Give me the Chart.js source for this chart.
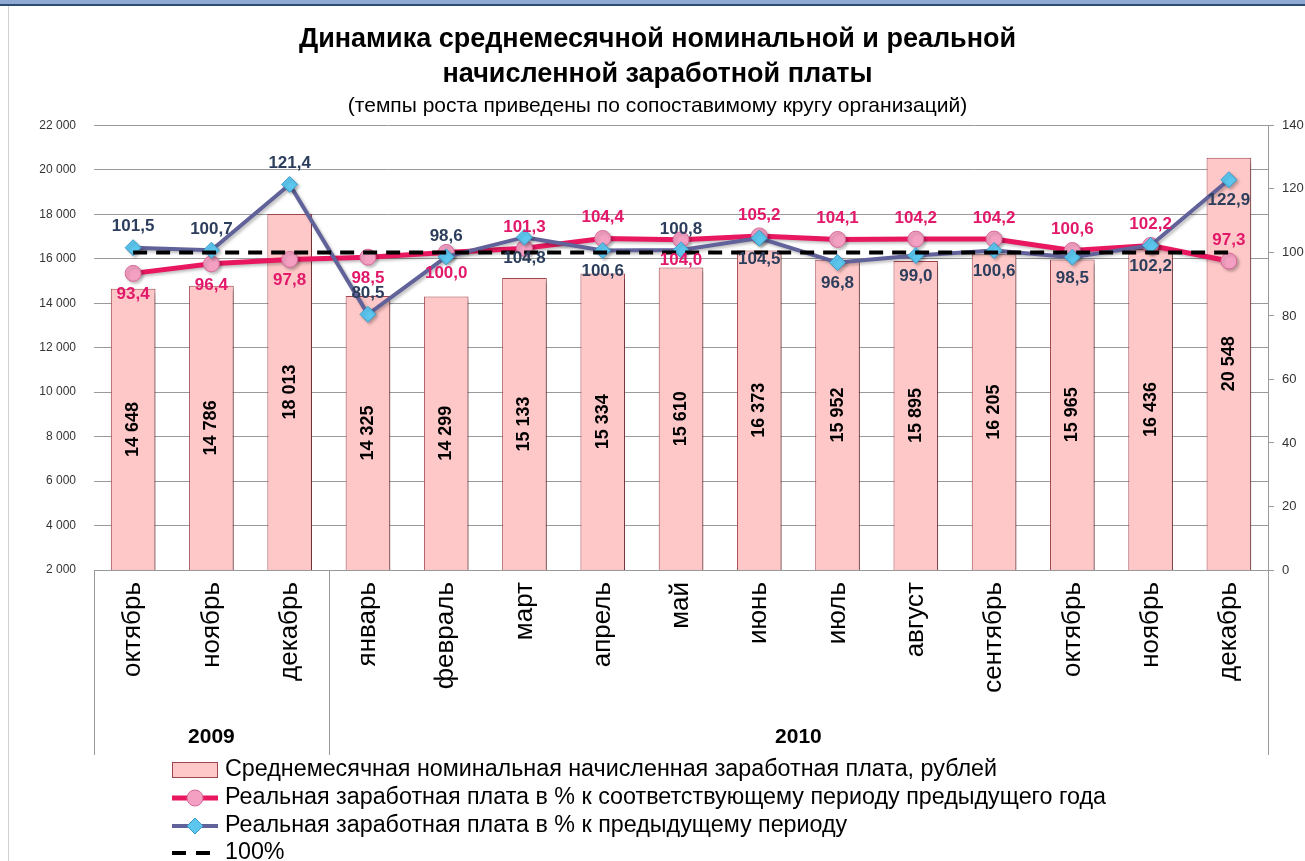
<!DOCTYPE html>
<html>
<head>
<meta charset="utf-8">
<script src="https://cdn.jsdelivr.net/npm/chart.js@4.4.0/dist/chart.umd.min.js"></script>
<style>
	html, body { margin: 0; padding: 0; background: #fff; }
	#wrap { position: relative; width: 1305px; height: 861px; overflow: hidden; }
	#topband { position: absolute; left: 0; top: 0; width: 1305px; height: 4px; background: #8eaad3; border-bottom: 2px solid #2f4b72; }
	#leftline { position: absolute; left: 8px; top: 6px; width: 1px; height: 855px; background: #d0d0d0; }
	canvas { position: absolute; left: 0; top: 0; }
</style>
</head>
<body>
<div id="wrap">
	<canvas id="wageChart" width="1305" height="861"></canvas>
	<div id="topband"></div>
	<div id="leftline"></div>
</div>
<script>
// data
var months = ['октябрь', 'ноябрь', 'декабрь', 'январь', 'февраль', 'март', 'апрель', 'май',
	'июнь', 'июль', 'август', 'сентябрь', 'октябрь', 'ноябрь', 'декабрь'];
var years = ['2009', '2010'];
var yearMonths = [3, 12];

// nominal wage, rub
var wages = [14648, 14786, 18013, 14325, 14299, 15133, 15334, 15610, 16373, 15952, 15895, 16205, 15965, 16436, 20548];
// real wage, % to same period of previous year
var realYoY = [93.4, 96.4, 97.8, 98.5, 100.0, 101.3, 104.4, 104.0, 105.2, 104.1, 104.2, 104.2, 100.6, 102.2, 97.3];
// real wage, % to previous period
var realMoM = [101.5, 100.7, 121.4, 80.5, 98.6, 104.8, 100.6, 100.8, 104.5, 96.8, 99.0, 100.6, 98.5, 102.2, 122.9];
// 100% reference
var level100 = [100, 100, 100, 100, 100, 100, 100, 100, 100, 100, 100, 100, 100, 100, 100];

var legendNames = [
	'Среднемесячная номинальная начисленная заработная плата, рублей',
	'Реальная заработная плата в % к соответствующему периоду предыдущего года',
	'Реальная заработная плата в % к предыдущему периоду',
	'100%'
];

// where the point labels sit (1 = above, -1 = below)
var yoyLabelSide = [-1, -1, -1, -1, -1, 1, 1, -1, 1, 1, 1, 1, 1, 1, 1];
var momLabelSide = [1, 1, 1, 1, 1, -1, -1, 1, -1, -1, -1, -1, -1, -1, -1];

var FONT = '"Liberation Sans", Arial, sans-serif';
var PINK = '#e8175f';
var SLATE = '#62629a';

function spaced(v) {
	return String(v).replace(/\B(?=(\d{3})+(?!\d))/g, ' ');
}
function comma(v) {
	return v.toFixed(1).replace('.', ',');
}

var extras = {
	id: 'extras',
	beforeDatasetDraw: function(chart, args) {
		var ctx = chart.ctx;
		ctx.save();
		if (args.index === 0) {
			ctx.shadowColor = 'rgba(0,0,0,0.35)';
			ctx.shadowOffsetX = 4;
			ctx.shadowOffsetY = 3;
			ctx.shadowBlur = 4;
		} else if (args.index !== 3) {
			ctx.shadowColor = 'rgba(0,0,0,0.25)';
			ctx.shadowOffsetX = 2;
			ctx.shadowOffsetY = 2;
			ctx.shadowBlur = 3;
		}
	},
	afterDatasetDraw: function(chart) {
		chart.ctx.restore();
	},
	afterDraw: function(chart) {
		var ctx = chart.ctx;
		var area = chart.chartArea;
		var xs = chart.scales.x;

		// values inside bars (centre of the visible part)
		var bars = chart.getDatasetMeta(0).data;
		ctx.save();
		ctx.fillStyle = '#000';
		ctx.font = 'bold 18px ' + FONT;
		ctx.textAlign = 'center';
		ctx.textBaseline = 'middle';
		for (var i = 0; i < bars.length; i++) {
			var b = bars[i];
			var base = Math.min(b.base, area.bottom);
			ctx.save();
			ctx.translate(b.x, (b.y + base) / 2);
			ctx.rotate(-Math.PI / 2);
			ctx.fillText(spaced(wages[i]), 0, 0);
			ctx.restore();
		}
		ctx.restore();

		// point labels of both lines
		function pointLabels(dsIndex, values, sides, color) {
			var pts = chart.getDatasetMeta(dsIndex).data;
			ctx.save();
			ctx.font = 'bold 17px ' + FONT;
			ctx.fillStyle = color;
			ctx.textAlign = 'center';
			ctx.textBaseline = 'middle';
			for (var k = 0; k < pts.length; k++) {
				ctx.fillText(comma(values[k]), pts[k].x, pts[k].y - sides[k] * 21);
			}
			ctx.restore();
		}
		pointLabels(1, realYoY, yoyLabelSide, '#e2196a');
		pointLabels(2, realMoM, momLabelSide, '#2c3e5c');

		// year grouping under the month labels
		var lineBottom = 755;
		ctx.save();
		ctx.strokeStyle = '#999';
		ctx.lineWidth = 1;
		var start = 0;
		var edges = [area.left];
		for (var y = 0; y < years.length; y++) {
			var end = start + yearMonths[y] - 1;
			var right = (end === months.length - 1) ? area.right :
				(xs.getPixelForValue(end) + xs.getPixelForValue(end + 1)) / 2;
			edges.push(right);
			var left = edges[y];
			ctx.fillStyle = '#000';
			ctx.font = 'bold 21px ' + FONT;
			ctx.textAlign = 'center';
			ctx.textBaseline = 'middle';
			ctx.fillText(years[y], (left + right) / 2, 737);
			start = end + 1;
		}
		for (var e = 0; e < edges.length; e++) {
			var ex = Math.round(edges[e]) + 0.5;
			ctx.beginPath();
			ctx.moveTo(ex, area.bottom);
			ctx.lineTo(ex, lineBottom);
			ctx.stroke();
		}
		ctx.restore();

		// legend
		var lx = 172, rows = [770, 798, 826, 853];
		var ds = chart.data.datasets;
		ctx.save();
		ctx.font = '23.3px ' + FONT;
		ctx.textBaseline = 'middle';
		ctx.textAlign = 'left';
		// bar swatch
		ctx.fillStyle = ds[0].backgroundColor;
		ctx.strokeStyle = ds[0].borderColor;
		ctx.lineWidth = 1;
		ctx.fillRect(lx, rows[0] - 8, 46, 16);
		ctx.strokeRect(lx + 0.5, rows[0] - 7.5, 45, 15);
		// line swatches
		for (var r = 1; r <= 3; r++) {
			ctx.save();
			ctx.strokeStyle = ds[r].borderColor;
			ctx.lineWidth = ds[r].borderWidth;
			if (ds[r].borderDash) ctx.setLineDash([14, 10]);
			ctx.beginPath();
			ctx.moveTo(lx, rows[r]);
			ctx.lineTo(lx + 46, rows[r]);
			ctx.stroke();
			ctx.restore();
		}
		ctx.fillStyle = ds[1].pointBackgroundColor;
		ctx.strokeStyle = ds[1].pointBorderColor;
		Chart.helpers.drawPoint(ctx, {pointStyle: 'circle', radius: 8, borderWidth: 1}, lx + 23, rows[1]);
		ctx.fillStyle = ds[2].pointBackgroundColor;
		ctx.strokeStyle = ds[2].pointBorderColor;
		Chart.helpers.drawPoint(ctx, {pointStyle: 'rectRot', radius: 8, borderWidth: 1}, lx + 23, rows[2]);
		ctx.fillStyle = '#000';
		for (var t = 0; t < legendNames.length; t++) {
			ctx.fillText(legendNames[t], lx + 53, rows[t]);
		}
		ctx.restore();
	}
};

var ctx = document.getElementById('wageChart').getContext('2d');
var chart = new Chart(ctx, {
	type: 'bar',
	data: {
		labels: months,
		datasets: [{
			label: legendNames[0],
			data: wages,
			yAxisID: 'y',
			backgroundColor: '#ffc8c8',
			borderColor: '#a3454f',
			borderWidth: 1,
			barPercentage: 0.57,
			categoryPercentage: 1,
			order: 10
		}, {
			type: 'line',
			label: legendNames[1],
			data: realYoY,
			yAxisID: 'y1',
			borderColor: PINK,
			borderWidth: 5,
			pointStyle: 'circle',
			pointRadius: 8,
			pointBackgroundColor: '#f3a0c2',
			pointBorderColor: '#d8689a',
			pointBorderWidth: 1,
			tension: 0,
			order: 3
		}, {
			type: 'line',
			label: legendNames[2],
			data: realMoM,
			yAxisID: 'y1',
			borderColor: SLATE,
			borderWidth: 4,
			pointStyle: 'rectRot',
			pointRadius: 8,
			pointBackgroundColor: '#5cc6ee',
			pointBorderColor: '#3b9ccc',
			pointBorderWidth: 1,
			tension: 0,
			order: 2
		}, {
			type: 'line',
			label: legendNames[3],
			data: level100,
			yAxisID: 'y1',
			borderColor: '#000',
			borderWidth: 4,
			borderDash: [14, 9],
			pointRadius: 0,
			order: 1
		}]
	},
	options: {
		responsive: false,
		animation: false,
		layout: {
			padding: { left: 10, right: 0, top: 0, bottom: 0 }
		},
		plugins: {
			legend: { display: false },
			tooltip: { enabled: false },
			title: {
				display: true,
				text: ['Динамика среднемесячной номинальной и реальной', 'начисленной заработной платы'],
				color: '#000',
				font: { family: FONT, size: 27, weight: 'bold', lineHeight: 1.3 },
				padding: { top: 22, bottom: 0 }
			},
			subtitle: {
				display: true,
				text: '(темпы роста приведены по сопоставимому кругу организаций)',
				color: '#000',
				font: { family: FONT, size: 21, lineHeight: 1.2 },
				padding: { top: 1, bottom: 7 }
			}
		},
		scales: {
			x: {
				grid: { display: false, drawTicks: false },
				border: { display: true, color: '#999' },
				ticks: {
					color: '#000',
					font: { family: FONT, size: 26 },
					minRotation: 90,
					maxRotation: 90,
					padding: 12,
					autoSkip: false
				},
				afterFit: function(scale) { scale.height = 291; }
			},
			y: {
				position: 'left',
				min: 2000,
				max: 22000,
				ticks: {
					stepSize: 2000,
					color: '#333',
					font: { family: FONT, size: 12 },
					padding: 18,
					callback: function(v) { return spaced(v); }
				},
				grid: { color: '#9a9a9a', drawTicks: false },
				border: { display: false },
				afterFit: function(scale) { scale.width = 84; }
			},
			y1: {
				position: 'right',
				min: 0,
				max: 140,
				ticks: {
					stepSize: 20,
					color: '#333',
					font: { family: FONT, size: 13 },
					padding: 8
				},
				grid: { drawOnChartArea: false, color: '#999', tickLength: 6 },
				border: { display: true, color: '#999' },
				afterFit: function(scale) { scale.width = 37; }
			}
		}
	},
	plugins: [extras]
});
</script>
</body>
</html>
